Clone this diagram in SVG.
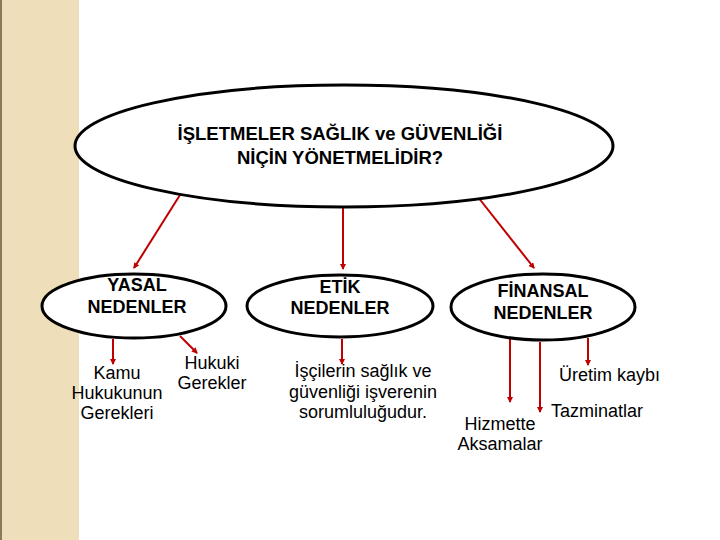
<svg xmlns="http://www.w3.org/2000/svg" width="720" height="540" viewBox="0 0 720 540">
<defs>
<marker id="ah" markerWidth="6" markerHeight="6" refX="5" refY="3" orient="auto" markerUnits="userSpaceOnUse" viewBox="0 0 6 6">
<path d="M0,0 L6,3 L0,6 z" fill="#C00000"/>
</marker>
<style>
.el{fill:#fff;stroke:#000;stroke-width:3}
.bt{font-family:"Liberation Sans",Arial,sans-serif;font-weight:bold;font-size:18px;text-anchor:middle;fill:#000}
.tt{font-family:"Liberation Sans",Arial,sans-serif;font-weight:bold;font-size:18.5px;text-anchor:middle;fill:#000}
.nt{font-family:"Liberation Sans",Arial,sans-serif;font-size:18px;text-anchor:middle;fill:#000}
.st{text-anchor:start}
.cn{stroke:#C00000;stroke-width:2;fill:none;marker-end:url(#ah)}
</style>
</defs>
<rect width="720" height="540" fill="#fff"/>
<rect x="0" y="0" width="79" height="540" fill="#EEDFBA"/>
<rect x="0" y="0" width="2" height="540" fill="#8B7A5A"/>
<g id="connectors">
<line class="cn" x1="185" y1="187" x2="134" y2="268"/>
<line class="cn" x1="343" y1="198" x2="343" y2="269"/>
<line class="cn" x1="474" y1="192" x2="534" y2="268"/>
<line class="cn" x1="113" y1="339" x2="113" y2="364"/>
<line class="cn" x1="180" y1="336" x2="197" y2="353"/>
<line class="cn" x1="342" y1="339" x2="342" y2="364"/>
<line class="cn" x1="510" y1="339" x2="510" y2="402"/>
<line class="cn" x1="540" y1="342" x2="540" y2="412"/>
<line class="cn" x1="588" y1="338" x2="588" y2="365"/>
</g>
<g id="main">
<ellipse class="el" cx="344" cy="146" rx="269" ry="61"/>
<text class="tt" x="340" y="140">İŞLETMELER SAĞLIK ve GÜVENLİĞİ</text>
<text class="tt" x="340" y="164">NİÇİN YÖNETMELİDİR?</text>
</g>
<g id="yasal">
<ellipse class="el" cx="134" cy="306" rx="92" ry="32"/>
<text class="bt" x="137" y="291">YASAL</text>
<text class="bt" x="137" y="313">NEDENLER</text>
</g>
<g id="etik">
<ellipse class="el" cx="340" cy="306" rx="93" ry="31"/>
<text class="bt" x="340" y="293">ETİK</text>
<text class="bt" x="340" y="314">NEDENLER</text>
</g>
<g id="finansal">
<ellipse class="el" cx="543" cy="307" rx="92" ry="33"/>
<text class="bt" x="543" y="297">FİNANSAL</text>
<text class="bt" x="543" y="319">NEDENLER</text>
</g>
<g id="kamu">
<text class="nt" x="117" y="379">Kamu</text>
<text class="nt" x="117" y="399">Hukukunun</text>
<text class="nt" x="117" y="419">Gerekleri</text>
</g>
<g id="hukuki">
<text class="nt" x="212" y="369">Hukuki</text>
<text class="nt" x="212" y="389">Gerekler</text>
</g>
<g id="isci">
<text class="nt" x="363" y="377">İşçilerin sağlık ve</text>
<text class="nt" x="363" y="398">güvenliği işverenin</text>
<text class="nt" x="363" y="418">sorumluluğudur.</text>
</g>
<g id="uretim">
<text class="nt st" x="559" y="381">Üretim kaybı</text>
</g>
<g id="tazminat">
<text class="nt st" x="551" y="417">Tazminatlar</text>
</g>
<g id="hizmet">
<text class="nt" x="500" y="430">Hizmette</text>
<text class="nt" x="500" y="450">Aksamalar</text>
</g>
</svg>
